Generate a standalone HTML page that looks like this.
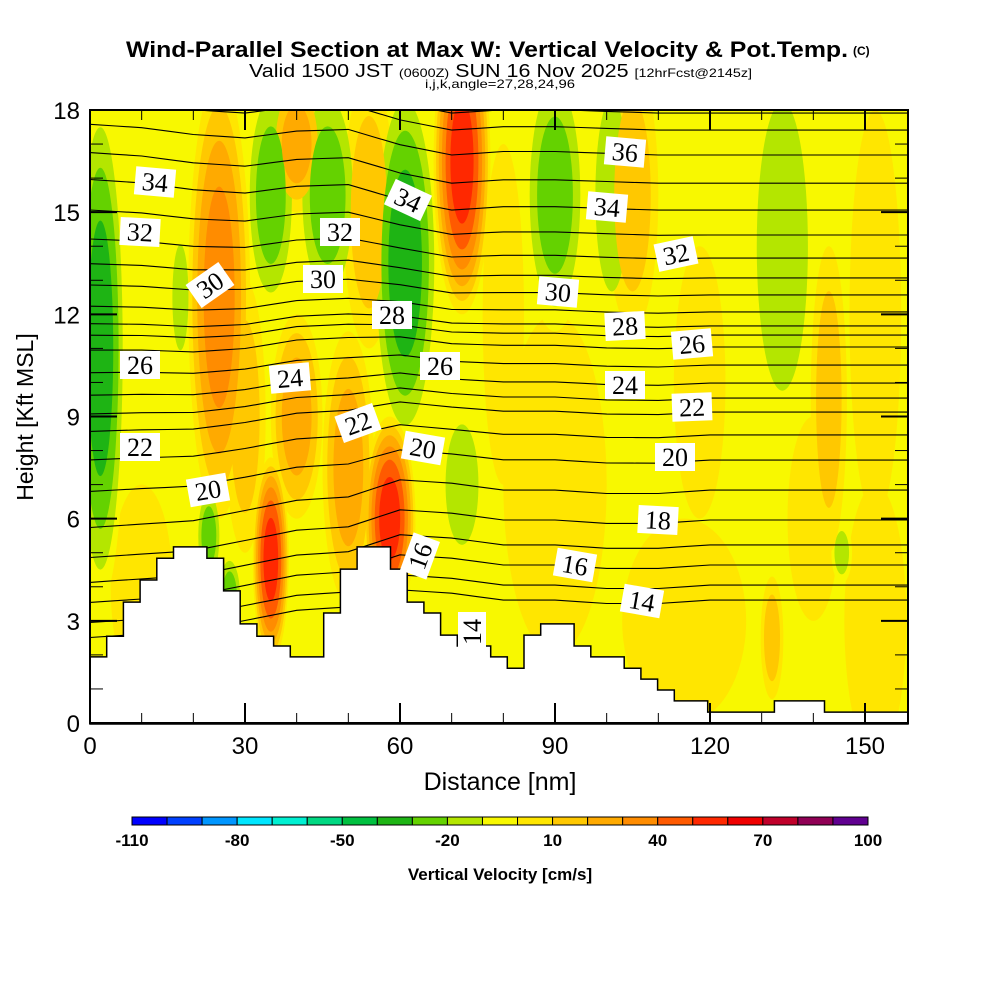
<!DOCTYPE html>
<html><head><meta charset="utf-8"><style>
html,body{margin:0;padding:0;background:#fff;}
svg{display:block;}
</style></head><body>
<svg id="chart" width="1000" height="1000" viewBox="0 0 1000 1000" xmlns="http://www.w3.org/2000/svg">
<defs><clipPath id="plotclip"><rect x="90" y="110" width="818" height="613"/></clipPath></defs>
<rect width="1000" height="1000" fill="#fff"/>
<g id="field" clip-path="url(#plotclip)"></g>
<g id="contours" clip-path="url(#plotclip)"></g>
<g id="terrain"></g>
<g id="clabels"></g>
<g id="axes"></g>
<g id="cbar"></g>
<text x="126" y="57" font-family="Liberation Sans, sans-serif" font-weight="bold" font-size="22" textLength="722" lengthAdjust="spacingAndGlyphs">Wind-Parallel Section at Max W: Vertical Velocity &amp; Pot.Temp.</text>
<text x="853" y="55" font-family="Liberation Sans, sans-serif" font-weight="bold" font-size="12">(C)</text>
<text x="249" y="77" font-family="Liberation Sans, sans-serif" font-size="18" textLength="503" lengthAdjust="spacingAndGlyphs">Valid 1500 JST <tspan font-size="12">(0600Z)</tspan> SUN 16 Nov 2025 <tspan font-size="12">[12hrFcst@2145z]</tspan></text>
<text x="500" y="88" text-anchor="middle" font-family="Liberation Sans, sans-serif" font-size="12" textLength="150" lengthAdjust="spacingAndGlyphs">i,j,k,angle=27,28,24,96</text>
<text x="500" y="790" text-anchor="middle" font-family="Liberation Sans, sans-serif" font-size="25">Distance [nm]</text>
<text transform="translate(33,417) rotate(-90)" text-anchor="middle" font-family="Liberation Sans, sans-serif" font-size="23">Height [Kft MSL]</text>
<text x="500" y="880" text-anchor="middle" font-family="Liberation Sans, sans-serif" font-weight="bold" font-size="17">Vertical Velocity [cm/s]</text>
</svg>
<script>
// ---- data ----
const xTicks=[0,30,60,90,120,150];
const yTicks=[0,3,6,9,12,15,18];
const cbarBounds=[-110,-100,-90,-80,-70,-60,-50,-40,-30,-20,-10,0,10,20,30,40,50,60,70,80,90,100];
const cbarColors=["#0000ff","#0040ff","#0096ff","#00e6ff","#00f0d2","#00d882","#00c040","#1eb414","#64d200","#b4e600","#f8f800","#ffe600","#ffc800","#ffaa00","#ff8c00","#ff5a00","#ff2800","#f00000","#c0002a","#900055","#600090"];
const cbarLabels=[-110,-80,-50,-20,10,40,70,100];
const terrainKft=[1.94,2.55,3.55,4.2,4.84,5.17,5.17,4.84,3.88,2.91,2.55,2.26,1.94,1.94,3.23,4.52,5.17,5.17,4.52,3.55,3.23,2.58,2.26,2.26,1.94,1.61,2.58,2.91,2.91,2.26,1.94,1.94,1.61,1.29,0.97,0.65,0.65,0.32,0.32,0.32,0.32,0.65,0.65,0.65,0.32,0.32,0.32,0.32,0.32];
const streakX=[90,115,152,152,10,80,118,140, 2,17.5,35,39,46,61,72,90,101,134,145.5,23,27, 35,25,58,72,40,54,50,40,105,143,132,30];
const streakY=[7,3,3,12,4,12,10,6, 11,12.5,15.5,9,15.5,13.5,7,15.5,15.5,14,5,5.5,3.7, 4.8,12.5,6,16.5,17,15,7.5,9,15.5,9.5,2.5,9];
const streakHalfW=[10,12,6,5,6,4,5,5, 5,2.2,5,3.5,6,6.5,4.5,6,4.5,7,2,2.5,2.5, 3.5,6,5,5.5,5,5,5,5,5,3.5,2.2,4];
const streakHalfH=[5,3,4,6,3,5,4,3, 7.5,2.2,3.5,2.5,3.5,5.5,2.5,4,4,6,0.9,1.5,1.3, 3,6.5,3,4.5,2,4,4,3,4,4.5,1.8,4];
const streakPeak=[10,10,10,10,10,10,10,10, -40,-20,-30,-20,-30,-40,-20,-30,-20,-20,-20,-30,-30, 60,40,60,60,30,20,30,30,20,20,20,20];
const thetaLevels=[14,15,16,17,18,19,20,21,22,23,24,25,26,27,28,29,30,31,32,33,34,35,36,37,38];
const thetaBaseKft=[3.61,4.05,4.64,5.23,5.96,6.84,7.72,8.46,9.13,9.54,9.98,10.51,11.04,11.39,11.66,12.07,12.57,13.07,13.65,14.33,15.06,15.85,16.68,17.41,17.91];
const offsetNodesNm=[0,10,20,30,40,50,60,70,80,90,100,110,120,130,140,150,160];
const offsetUpper=[0.9,0.8,0.6,0.5,0.7,0.75,0.3,0.0,0.1,0.1,0.05,0,0,0,0,0,0];
const offsetLower=[-1.1,-1.0,-0.9,-0.6,-0.3,-0.2,0.3,0.2,0.0,0.0,-0.1,-0.1,0,0,0,0,0];
const labelTexts=["34","32","30","26","22","20","24","32","30","28","34","26","22","20","16","14","36","34","32","30","28","26","24","22","20","18","16","14"];
// label layout (pixel placement + rotation), not data
const labelLayout=[[155,182,5],[140,232,3],[210,285,-35],[140,365,0],[140,447,0],[208,490,-10],[290,378,-5],[340,232,0],[323,279,0],[392,315,0],[408,200,25],[440,366,0],[358,423,-20],[423,448,10],[420,556,-70],[472,632,-90],[625,152,5],[607,207,5],[676,254,-12],[558,292,5],[625,326,-3],[692,344,-5],[625,385,0],[692,407,-2],[675,457,0],[658,520,3],[575,565,10],[642,601,10]];

// ---- scales ----
const X0=90,X1=908,Y0=723,Y1=110;
const XMAX=(X1-X0)/(155/30);
const sx=nm=>X0+nm*(155/30);
const sy=k=>Y0-k*(613/18);
const NS="http://www.w3.org/2000/svg";
function mk(tag,attrs,parent){const e=document.createElementNS(NS,tag);for(const k in attrs)e.setAttribute(k,attrs[k]);parent.appendChild(e);return e;}
function binColor(lo){const i=cbarBounds.indexOf(lo);return cbarColors[i];}

// ---- field ----
const field=document.getElementById('field');
const bg=mk('rect',{x:X0,y:Y1,width:X1-X0,height:Y0-Y1,fill:binColor(-10)},field);


const layers=[];
streakPeak.forEach((v,i)=>{
  const n=Math.round(Math.abs(v)/10);
  for(let j=1;j<=n;j++){
    const thr=v>0?(j-1)*10:-j*10;
    layers.push({i,j,n,thr,ord:j});
  }
});
layers.sort((a,b)=>a.ord-b.ord);
layers.forEach(L=>{
  const s=1-(L.j-1)/L.n;
  const e=mk('ellipse',{cx:sx(streakX[L.i]),cy:sy(streakY[L.i]),rx:(streakHalfW[L.i]*155/30)*Math.sqrt(s),ry:(streakHalfH[L.i]*613/18)*Math.sqrt(s),fill:binColor(L.thr)},field);
  
  
});

// ---- theta contours ----
const cont=document.getElementById('contours');
function interp(arr,nm){for(let k=0;k<offsetNodesNm.length-1;k++){if(nm<=offsetNodesNm[k+1]){const t=(nm-offsetNodesNm[k])/(offsetNodesNm[k+1]-offsetNodesNm[k]);return arr[k]+(arr[k+1]-arr[k])*t;}}return arr[arr.length-1];}
thetaLevels.forEach((lv,i)=>{
  const b=thetaBaseKft[i];
  const w=Math.max(0,Math.min(1,(b-7)/8));
  let d="";
  for(let nm=0;nm<=160;nm+=5){
    const h=b+interp(offsetUpper,nm)*w+interp(offsetLower,nm)*(1-w);
    d+=(nm===0?"M":"L")+sx(nm).toFixed(1)+","+sy(h).toFixed(1);
  }
  const p=mk('path',{d,fill:"none",stroke:"#000","stroke-width":1.1},cont);
  
  
});

// ---- terrain ----
const ter=document.getElementById('terrain');
const dx=XMAX/terrainKft.length;
let td="M"+sx(0)+","+(Y0+1);
terrainKft.forEach((h,i)=>{td+="L"+sx(i*dx).toFixed(1)+","+sy(h).toFixed(1)+"L"+sx((i+1)*dx).toFixed(1)+","+sy(h).toFixed(1);});
td+="L"+X1+","+(Y0+1)+"Z";
const tp=mk('path',{d:td,fill:"#fff",stroke:"#000","stroke-width":1.5},ter);



// ---- contour labels ----
const cl=document.getElementById('clabels');
labelTexts.forEach((t,i)=>{
  const [x,y,r]=labelLayout[i];
  const g=mk('g',{transform:`translate(${x},${y}) rotate(${r})`},cl);
  
  
  mk('rect',{x:-20,y:-14,width:40,height:28,fill:"#fff"},g);
  const tx=mk('text',{x:0,y:9,"text-anchor":"middle","font-family":"Liberation Serif, serif","font-size":26,fill:"#000"},g);
  tx.textContent=t;
});

// ---- axes ----
const ax=document.getElementById('axes');
const frame=mk('rect',{x:X0,y:Y1,width:X1-X0,height:Y0-Y1,fill:"none",stroke:"#000","stroke-width":2},ax);


for(let nm=0;nm<=XMAX;nm+=10){
  const major=nm%30===0, L=major?20:10;
  mk('line',{x1:sx(nm),x2:sx(nm),y1:Y0,y2:Y0-L,stroke:"#000","stroke-width":major?2:1},ax);
  mk('line',{x1:sx(nm),x2:sx(nm),y1:Y1,y2:Y1+L,stroke:"#000","stroke-width":major?2:1},ax);
}
for(let k=0;k<=18;k++){
  const major=k%3===0, L=major?27:13;
  mk('line',{x1:X0,x2:X0+L,y1:sy(k),y2:sy(k),stroke:"#000","stroke-width":major?2:1},ax);
  mk('line',{x1:X1,x2:X1-L,y1:sy(k),y2:sy(k),stroke:"#000","stroke-width":major?2:1},ax);
}
xTicks.forEach(v=>{
  const t=mk('text',{x:sx(v),y:754,"text-anchor":"middle","font-family":"Liberation Sans, sans-serif","font-size":24},ax);
  
  
  t.textContent=v;
});
yTicks.forEach(v=>{
  const t=mk('text',{x:80,y:sy(v)+9,"text-anchor":"end","font-family":"Liberation Sans, sans-serif","font-size":24},ax);
  
  
  t.textContent=v;
});

// ---- colorbar ----
const cb=document.getElementById('cbar');
const cbX0=132,cbX1=868,cbW=(cbX1-cbX0)/cbarColors.length;
const cs=v=>cbX0+(v-cbarBounds[0])/(cbarBounds[cbarBounds.length-1]-cbarBounds[0])*(cbX1-cbX0);
cbarColors.forEach((c,i)=>{
  const r=mk('rect',{x:cs(cbarBounds[i]),y:817,width:cbW,height:8,fill:c,stroke:"#000","stroke-width":1},cb);
  
  
});
cbarLabels.forEach(v=>{
  const t=mk('text',{x:cs(v),y:846,"text-anchor":"middle","font-family":"Liberation Sans, sans-serif","font-weight":"bold","font-size":17},cb);
  
  
  t.textContent=v;
});
</script>
</body></html>
